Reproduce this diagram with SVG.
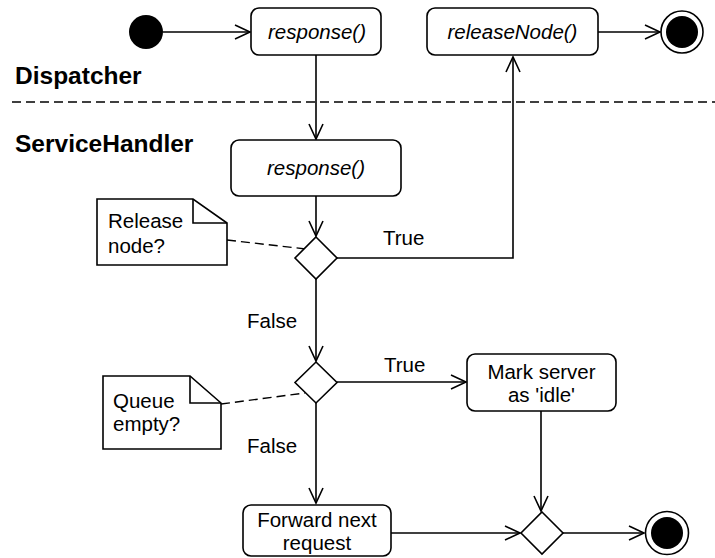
<svg xmlns="http://www.w3.org/2000/svg" width="715" height="558" viewBox="0 0 715 558">
<style>
text{font-family:"Liberation Sans",Arial,sans-serif;font-size:20.5px;fill:#000}
.it{font-style:italic}
.lane{font-weight:bold;font-size:24.5px}
.box{fill:#fff;stroke:#000;stroke-width:1.6}
.ln{fill:none;stroke:#000;stroke-width:1.6}
.dash{fill:none;stroke:#000;stroke-width:1.4;stroke-dasharray:9,5}
.c{text-anchor:middle}
</style>
<defs>
<marker id="arr" markerUnits="userSpaceOnUse" markerWidth="20" markerHeight="20" viewBox="-16 -10 20 20" refX="0" refY="0" orient="auto" overflow="visible">
<path d="M-15,-7 L0,0 L-15,7" fill="none" stroke="#000" stroke-width="1.6"/>
</marker>
</defs>
<rect width="715" height="558" fill="#fff"/>
<g id="lanes">
<text class="lane" x="15" y="84">Dispatcher</text>
<line class="dash" x1="12" y1="102" x2="715" y2="102"/>
<text class="lane" x="15" y="152">ServiceHandler</text>
</g>
<g id="connectors">
<line class="ln" x1="163" y1="32" x2="250" y2="32" marker-end="url(#arr)"/>
<line class="ln" x1="316" y1="55" x2="316" y2="139" marker-end="url(#arr)"/>
<line class="ln" x1="316" y1="196" x2="316" y2="236" marker-end="url(#arr)"/>
<polyline class="ln" points="337,258 513,258 513,57" marker-end="url(#arr)"/>
<line class="ln" x1="598" y1="32" x2="660" y2="32" marker-end="url(#arr)"/>
<line class="ln" x1="316" y1="279" x2="316" y2="361" marker-end="url(#arr)"/>
<line class="ln" x1="337" y1="382" x2="466" y2="382" marker-end="url(#arr)"/>
<line class="ln" x1="316" y1="403" x2="316" y2="503" marker-end="url(#arr)"/>
<line class="ln" x1="541" y1="411" x2="541" y2="511" marker-end="url(#arr)"/>
<line class="ln" x1="391" y1="533" x2="520" y2="533" marker-end="url(#arr)"/>
<line class="ln" x1="563" y1="533" x2="644" y2="533" marker-end="url(#arr)"/>
<line class="dash" x1="227" y1="240" x2="306" y2="249"/>
<line class="dash" x1="221" y1="404" x2="305" y2="393"/>
<text x="383" y="245">True</text>
<text x="247" y="328">False</text>
<text x="384" y="372">True</text>
<text x="247" y="453">False</text>
</g>
<g id="start">
<circle cx="146" cy="32" r="17" fill="#000"/>
</g>
<g id="response1">
<rect class="box" x="251" y="8" width="130" height="47" rx="8"/>
<text class="it c" x="317" y="39">response()</text>
</g>
<g id="releaseNode">
<rect class="box" x="427" y="8" width="171" height="47" rx="8"/>
<text class="it c" x="512.5" y="39">releaseNode()</text>
</g>
<g id="end1">
<circle cx="682" cy="32" r="21" fill="#fff" stroke="#000" stroke-width="1.6"/>
<circle cx="682" cy="32" r="16" fill="#000"/>
</g>
<g id="response2">
<rect class="box" x="231" y="140" width="170" height="56" rx="8"/>
<text class="it c" x="316" y="175">response()</text>
</g>
<g id="decision1">
<polygon class="box" points="316,237 337,258 316,279 295,258"/>
</g>
<g id="note1">
<polygon class="box" points="97,199 193,199 227,223 227,265 97,265"/>
<polyline class="ln" points="193,199 193,223 227,223"/>
<text x="108" y="228">Release</text>
<text x="108" y="253">node?</text>
</g>
<g id="decision2">
<polygon class="box" points="316,362 337,382.5 316,403 295,382.5"/>
</g>
<g id="note2">
<polygon class="box" points="103,376 190,376 221,403 221,449 103,449"/>
<polyline class="ln" points="190,376 190,403 221,403"/>
<text x="113" y="408">Queue</text>
<text x="113" y="431">empty?</text>
</g>
<g id="markIdle">
<rect class="box" x="467" y="354" width="149" height="57" rx="8"/>
<text class="c" x="541.5" y="379">Mark server</text>
<text class="c" x="541.5" y="402">as 'idle'</text>
</g>
<g id="forward">
<rect class="box" x="243" y="505" width="148" height="51" rx="8"/>
<text class="c" x="317" y="527">Forward next</text>
<text class="c" x="317" y="550">request</text>
</g>
<g id="merge">
<polygon class="box" points="542,512 563,533 542,554 521,533"/>
</g>
<g id="end2">
<circle cx="667" cy="533" r="21.5" fill="#fff" stroke="#000" stroke-width="1.6"/>
<circle cx="667" cy="533" r="16" fill="#000"/>
</g>
</svg>
